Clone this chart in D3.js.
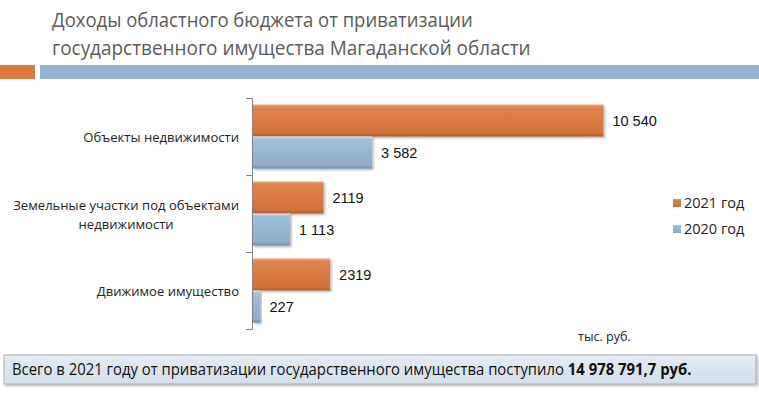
<!DOCTYPE html>
<html>
<head>
<meta charset="utf-8">
<script src="https://cdnjs.cloudflare.com/ajax/libs/d3/7.8.5/d3.min.js"></script>
<style>
  html, body { margin: 0; padding: 0; background: #fff; }
  svg { display: block; }
</style>
</head>
<body>
<div id="chart"></div>
<script>
// data
const categories = [
    ['Объекты недвижимости'],
    ['Земельные участки под объектами', 'недвижимости'],
    ['Движимое имущество'],
];
const seriesNames = ['2021 год', '2020 год'];
const values2021 = [10540, 2119, 2319];
const values2020 = [3582, 1113, 227];
const labels2021 = ['10 540', '2119', '2319'];
const labels2020 = ['3 582', '1 113', '227'];
const titleLines = [
    'Доходы областного бюджета от приватизации',
    'государственного  имущества Магаданской области',
];
const unitLabel = 'тыс. руб.';
const footerText = 'Всего в 2021 году от приватизации государственного имущества поступило ';
const footerTotal = '14 978 791,7 руб.';

const W = 759;
const H = 399;
const sans = '"Open Sans", "Noto Sans", sans-serif';
const arial = '"Liberation Sans", Arial, sans-serif';

const svg = d3.select('#chart').append('svg')
    .attr('width', W)
    .attr('height', H);

const defs = svg.append('defs');
const grad = (id, stops) => {
    const g = defs.append('linearGradient')
        .attr('id', id)
        .attr('x1', 0).attr('y1', 0)
        .attr('x2', 0).attr('y2', 1);
    stops.forEach(([o, c]) => g.append('stop').attr('offset', o).attr('stop-color', c));
};
grad('gOrange', [[0, '#efb08a'], [0.08, '#de8450'], [0.5, '#d97a42'], [0.9, '#d2713a'], [1, '#a65a2e']]);
grad('gBlue', [[0, '#d3e2ef'], [0.08, '#a2c0da'], [0.5, '#95b5d2'], [0.9, '#8dadcb'], [1, '#6d8bab']]);
grad('gBox', [[0, '#e4ebf3'], [1, '#d3deea']]);

const shadow = defs.append('filter').attr('id', 'shadow')
    .attr('x', '-5%').attr('y', '-20%').attr('width', '115%').attr('height', '160%');
shadow.append('feDropShadow')
    .attr('dx', 1.5).attr('dy', 1.5).attr('stdDeviation', 1)
    .attr('flood-color', '#000').attr('flood-opacity', 0.3);

// squeeze a text horizontally (Calibri-like proportions) to hit a target width
const squeeze = (g, sel, x0, y0, target) => {
    const len = sel.node().getComputedTextLength();
    g.attr('transform', `translate(${x0},${y0}) scale(${target / len},1)`);
};

const fitWidth = (sel, target) => {
    const size = parseFloat(sel.attr('font-size'));
    const len = sel.node().getComputedTextLength();
    const next = size * target / len;
    sel.attr('font-size', next);
    return next;
};

// title
[[titleLines[0], 27, 421], [titleLines[1], 54.5, 479]].forEach(([txt, ty, tw]) => {
    const g = svg.append('g');
    const t = g.append('text')
        .attr('font-family', sans)
        .attr('font-size', 20)
        .attr('fill', '#5a5a5a')
        .text(txt);
    squeeze(g, t, 52, ty, tw);
});

// header stripes
svg.append('rect').attr('x', 0).attr('y', 65).attr('width', 35).attr('height', 14).attr('fill', '#d9783f');
svg.append('rect').attr('x', 40).attr('y', 65).attr('width', W - 40).attr('height', 14).attr('fill', '#93b3d3');

// scales
const x = d3.scaleLinear().domain([0, 12000]).range([252, 651]);
const y = d3.scaleBand().domain(d3.range(categories.length)).range([98, 329]);
const ySub = d3.scaleBand().domain(seriesNames).range([0, y.bandwidth()]).paddingOuter(0.2);
const yTicks = d3.scaleLinear().domain([0, categories.length]).range([98, 329]);

// axis with ticks at category boundaries
const axisG = svg.append('g')
    .attr('transform', `translate(${x(0)},0)`)
    .call(d3.axisLeft(yTicks).tickValues(d3.range(categories.length + 1)).tickSize(6).tickFormat(''));
axisG.selectAll('path, line').attr('stroke', '#868686');

// bars
const rows = categories.map((c, i) => ({
    i,
    bars: [
        { s: seriesNames[0], v: values2021[i], label: labels2021[i], fill: 'url(#gOrange)' },
        { s: seriesNames[1], v: values2020[i], label: labels2020[i], fill: 'url(#gBlue)' },
    ],
}));

const rowG = svg.append('g').selectAll('g')
    .data(rows)
    .join('g')
    .attr('transform', (d) => `translate(0,${y(d.i)})`);

rowG.selectAll('rect')
    .data((d) => d.bars)
    .join('rect')
    .attr('x', x(0) + 1)
    .attr('y', (d) => ySub(d.s))
    .attr('width', (d) => x(d.v) - x(0))
    .attr('height', ySub.bandwidth())
    .attr('fill', (d) => d.fill)
    .attr('filter', 'url(#shadow)');

rowG.selectAll('text.val')
    .data((d) => d.bars)
    .join('text')
    .attr('class', 'val')
    .attr('x', (d) => x(d.v) + 10)
    .attr('y', (d) => ySub(d.s) + ySub.bandwidth() / 2)
    .attr('dy', '0.35em')
    .attr('font-family', arial)
    .attr('font-size', 14.5)
    .attr('fill', '#111')
    .text((d) => d.label);

// category labels: block right-aligned, lines centred inside the block
const catG = svg.append('g').attr('fill', '#222').attr('font-family', sans);
const probe = catG.append('text').attr('font-size', 13).text(categories[1][0]);
const catSize = fitWidth(probe, 226);
probe.remove();
categories.forEach((lines, i) => {
    const widths = lines.map((l) => {
        const t = catG.append('text').attr('font-size', catSize).text(l);
        const w = t.node().getComputedTextLength();
        t.remove();
        return w;
    });
    const blockW = d3.max(widths);
    const lineH = 19;
    const cy = y(i) + y.bandwidth() / 2 + 1;
    lines.forEach((l, j) => {
        catG.append('text')
            .attr('font-size', catSize)
            .attr('text-anchor', 'middle')
            .attr('x', 239 - blockW / 2)
            .attr('y', cy + (j - (lines.length - 1) / 2) * lineH)
            .attr('dy', '0.35em')
            .text(l);
    });
});

// legend
const legend = svg.append('g').attr('font-family', sans);
const legendFills = ['url(#gOrange)', 'url(#gBlue)'];
seriesNames.forEach((s, i) => {
    const ly = 203 + i * 26;
    legend.append('rect')
        .attr('x', 673).attr('y', ly - 4)
        .attr('width', 8).attr('height', 8)
        .attr('fill', legendFills[i]);
    legend.append('text')
        .attr('x', 684).attr('y', ly)
        .attr('dy', '0.35em')
        .attr('font-size', 14.5)
        .attr('fill', '#222')
        .text(s);
});

// unit label
svg.append('text')
    .attr('x', 578).attr('y', 337)
    .attr('dy', '0.35em')
    .attr('font-family', sans)
    .attr('font-size', 12.5)
    .attr('fill', '#222')
    .text(unitLabel);

// footer box
svg.append('rect')
    .attr('x', 4).attr('y', 355)
    .attr('width', 752).attr('height', 29)
    .attr('fill', 'url(#gBox)')
    .attr('stroke', '#a7b0ba')
    .attr('stroke-width', 1)
    .attr('filter', 'url(#shadow)');

const footG = svg.append('g');
const foot = footG.append('text')
    .attr('dy', '0.35em')
    .attr('font-family', sans)
    .attr('font-size', 16)
    .attr('fill', '#111');
foot.append('tspan').text(footerText);
foot.append('tspan').attr('font-weight', 'bold').text(footerTotal);
squeeze(footG, foot, 12, 369.5, 680);
</script>
</body>
</html>
